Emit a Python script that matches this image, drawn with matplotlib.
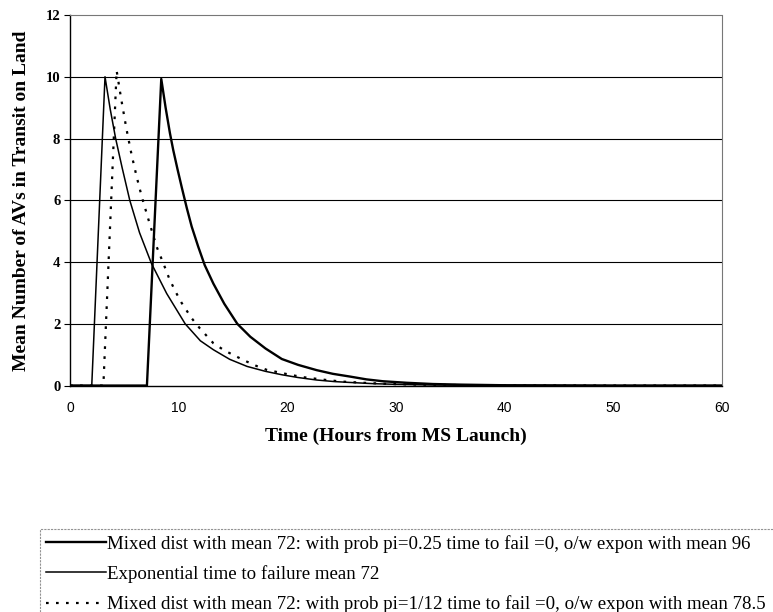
import matplotlib
matplotlib.use("Agg")
import matplotlib.pyplot as plt

# Series (time in hours, mean number of AVs)
mix25_t = [0, 7.08, 8.4, 8.8, 9.2, 9.5, 9.9, 10.3, 10.75, 11.2, 11.8, 12.4, 13.2, 14.2, 15.4, 16.6,
           18, 19.5, 21, 22.7, 24.2, 25.8, 27.3, 28.8, 31, 33.4, 36, 40, 50, 60]
mix25_y = [0, 0, 9.93, 9.0, 8.17, 7.63, 7.0, 6.4, 5.75, 5.15, 4.5, 3.9, 3.3, 2.65, 2.0, 1.58,
           1.2, 0.86, 0.67, 0.5, 0.38, 0.29, 0.2, 0.14, 0.09, 0.05, 0.03, 0.01, 0.0, 0.0]

expo_t = [0, 2.0, 3.22, 3.7, 4.2, 4.8, 5.5, 6.4, 7.5, 8.9, 10.6, 12.0, 13.2, 14.7, 16.3, 18, 19.5,
          21, 22.7, 24.3, 25.8, 28, 30, 33, 36, 40, 50, 60]
expo_y = [0, 0, 10.0, 8.95, 8.0, 7.05, 6.0, 4.95, 3.95, 2.98, 2.0, 1.45, 1.16, 0.85, 0.62, 0.46, 0.35,
          0.26, 0.18, 0.13, 0.1, 0.06, 0.04, 0.02, 0.01, 0.005, 0.0, 0.0]

mix12_t = [0, 3.07, 4.29, 4.7, 5.2, 5.67, 6.13, 6.6, 7.2, 7.97, 8.6, 9.14, 9.7, 10.27, 11.2, 11.96,
           13.2, 14.2, 15.2, 16.25, 17.2, 18.1, 19.3, 20.4, 21.5, 23.6, 25, 27, 29.5, 32, 36, 40, 50, 60]
mix12_y = [0, 0, 10.2, 9.3, 8.3, 7.47, 6.77, 6.12, 5.4, 4.5, 3.95, 3.46, 3.05, 2.68, 2.18, 1.85,
           1.37, 1.14, 0.96, 0.78, 0.63, 0.51, 0.42, 0.34, 0.27, 0.18, 0.13, 0.09, 0.05, 0.03, 0.015, 0.005, 0.0, 0.0]

labels = [
    "Mixed dist with mean 72: with prob pi=0.25 time to fail =0, o/w expon with mean 96",
    "Exponential time to failure mean 72",
    "Mixed dist with mean 72: with prob pi=1/12 time to fail =0, o/w expon with mean 78.5",
]
x_ticks = [0, 10, 20, 30, 40, 50, 60]
y_ticks = [0, 2, 4, 6, 8, 10, 12]

serif = ["Liberation Serif", "DejaVu Serif"]
sans = ["Liberation Sans", "DejaVu Sans"]

fig = plt.figure(figsize=(7.73, 6.12), dpi=100)
ax = fig.add_axes([0.0906, 0.370, 0.843, 0.6055])

for yv in y_ticks[1:-1]:
    ax.axhline(yv, color="black", lw=0.8, zorder=1)

l1, = ax.plot(mix25_t, mix25_y, color="black", lw=1.7, zorder=3)
l2, = ax.plot(expo_t, expo_y, color="black", lw=1.1, zorder=3)
l3, = ax.plot(mix12_t, mix12_y, color="black", lw=1.6, linestyle=(0, (1.2, 3.3)), zorder=3)

ax.set_xlim(0, 60)
ax.set_ylim(0, 12)
ax.set_xticks(x_ticks)
ax.set_yticks(y_ticks)
ax.set_xticklabels([str(v) for v in x_ticks], family=sans, fontsize=10)
ax.set_yticklabels([str(v) for v in y_ticks], family=serif, fontsize=10.5, fontweight="bold")
ax.tick_params(axis="x", length=0, pad=11)
ax.tick_params(axis="y", length=4, width=0.8, direction="out", pad=3)

for s in ["top", "right"]:
    ax.spines[s].set_color("#777777")
    ax.spines[s].set_linestyle((0, (1, 1)))
    ax.spines[s].set_linewidth(0.8)
for s in ["left", "bottom"]:
    ax.spines[s].set_color("black")
    ax.spines[s].set_linewidth(1.0)

ax.set_xlabel("Time (Hours from MS Launch)", family=serif, fontsize=14, fontweight="bold", labelpad=9)
ax.set_ylabel("Mean Number of AVs in Transit on Land", family=serif, fontsize=14, fontweight="bold", labelpad=11)

leg = fig.legend([l1, l2, l3], labels, loc="upper left",
                 bbox_to_anchor=(40 / 773, 0.0, 1.2, 1 - 529 / 612), mode="expand", borderaxespad=0,
                 prop={"family": serif, "size": 13.6}, handlelength=3.2, handletextpad=0.05,
                 labelspacing=0.66, borderpad=0.3, fancybox=False, frameon=True)
fr = leg.get_frame()
fr.set_edgecolor("#777777")
fr.set_linestyle((0, (2, 1)))
fr.set_linewidth(0.8)

fig.savefig("out.png", dpi=100)
